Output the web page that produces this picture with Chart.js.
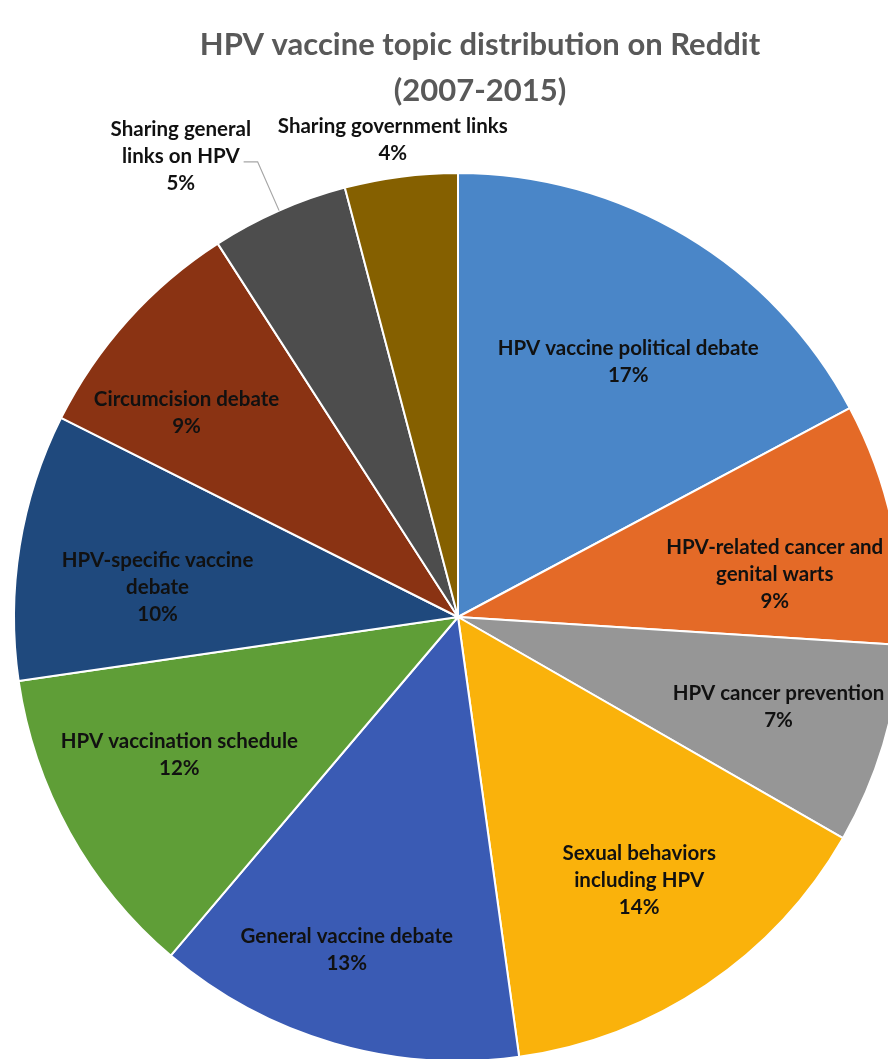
<!DOCTYPE html>
<html>
<head>
<meta charset="utf-8">
<script src="https://cdn.jsdelivr.net/npm/chart.js@4.4.1/dist/chart.umd.min.js"></script>
<style>
    html, body { margin: 0; padding: 0; overflow: hidden; background: #fff; }
    #wrap { width: 960px; height: 1070px; }
</style>
</head>
<body>
<div id="wrap"><canvas id="grafikTopik"></canvas></div>
<script>
// Data (urut searah jarum jam dari atas)
const kategori = [
    ['HPV vaccine political debate'],
    ['HPV-related cancer and', 'genital warts'],
    ['HPV cancer prevention'],
    ['Sexual behaviors', 'including HPV'],
    ['General vaccine debate'],
    ['HPV vaccination schedule'],
    ['HPV-specific vaccine', 'debate'],
    ['Circumcision debate'],
    ['Sharing general', 'links on HPV'],
    ['Sharing government links']
];
const nilai       = [17.2, 8.8, 7.3, 14.5, 13.4, 11.5, 9.7, 8.5, 5.0, 4.1];
const labelPersen = ['17%', '9%', '7%', '14%', '13%', '12%', '10%', '9%', '5%', '4%'];
const judul       = ['HPV vaccine topic distribution on Reddit', '(2007-2015)'];

const warna = [
    '#4A86C8', '#E46A27', '#969696', '#FAB20B', '#3A5BB4',
    '#5F9E37', '#1F497D', '#8A3313', '#4D4D4D', '#856000'
];

// Posisi label: fraksi jari-jari dan geser sudut (derajat)
const posisiLabel = [
    { r: 0.69, geser: 2.8 },
    { r: 0.72, geser: 4.5 },
    { r: 0.75, geser: -1 },
    { r: 0.72, geser: -0.5 },
    { r: 0.79, geser: 2.3 },
    { r: 0.70, geser: 2.7 },
    { r: 0.68, geser: -3.5 },
    { r: 0.765, geser: -5.0 },
    { r: 1.21, geser: -7.3, garis: true },
    { r: 1.085, geser: -0.4 }
];

const fontLabel   = 'bold 20.5px Lato';
const tinggiBaris = 27;

// Judul digambar sendiri supaya rata tengah terhadap kanvas
const pluginJudul = {
    id: 'judulGrafik',
    afterDraw(chart) {
        const ctx = chart.ctx;
        ctx.save();
        ctx.font = 'bold 31px Lato';
        ctx.fillStyle = '#595959';
        ctx.textAlign = 'center';
        ctx.textBaseline = 'middle';
        judul.forEach((teks, k) => {
            ctx.fillText(teks, chart.width / 2, 45 + k * 46);
        });
        ctx.restore();
    }
};

const pluginLabel = {
    id: 'labelIrisan',
    afterDatasetsDraw(chart) {
        const ctx = chart.ctx;
        const meta = chart.getDatasetMeta(0);
        ctx.save();
        ctx.font = fontLabel;
        ctx.fillStyle = '#111';
        ctx.textAlign = 'center';
        ctx.textBaseline = 'middle';

        meta.data.forEach((arc, i) => {
            const p = arc.getProps(['x', 'y', 'startAngle', 'endAngle', 'outerRadius'], true);
            const tengah = (p.startAngle + p.endAngle) / 2;
            const pos = posisiLabel[i];
            const sudut = tengah + pos.geser * Math.PI / 180;
            const lx = p.x + Math.cos(sudut) * p.outerRadius * pos.r;
            const ly = p.y + Math.sin(sudut) * p.outerRadius * pos.r;

            const baris = kategori[i].concat([labelPersen[i]]);
            const y0 = ly - (baris.length - 1) * tinggiBaris / 2;
            baris.forEach((teks, k) => {
                ctx.fillText(teks, lx, y0 + k * tinggiBaris);
            });

            if (pos.garis) {
                // garis penunjuk dari tepi irisan ke label
                const ax = p.x + Math.cos(tengah) * p.outerRadius;
                const ay = p.y + Math.sin(tengah) * p.outerRadius;
                const tekuk = p.outerRadius * 1.12;
                const bx = p.x + Math.cos(tengah) * tekuk;
                const by = p.y + Math.sin(tengah) * tekuk;
                const lebar = ctx.measureText(kategori[i][1]).width;
                const cx = lx + lebar / 2 + 4;
                ctx.beginPath();
                ctx.strokeStyle = '#A6A6A6';
                ctx.lineWidth = 1.2;
                ctx.moveTo(ax, ay);
                ctx.lineTo(bx, by);
                ctx.lineTo(cx, by);
                ctx.stroke();
            }
        });
        ctx.restore();
    }
};

const ctx = document.getElementById('grafikTopik').getContext('2d');

new Chart(ctx, {
    type: 'pie',
    data: {
        labels: kategori.map(k => k.join(' ')),
        datasets: [{
            data: nilai,
            backgroundColor: warna,
            borderColor: '#ffffff',
            borderWidth: 2
        }]
    },
    options: {
        responsive: true,
        maintainAspectRatio: false,
        animation: false,
        layout: {
            padding: { left: 13, right: 57, top: 172, bottom: 8 }
        },
        plugins: {
            legend: { display: false },
            tooltip: { enabled: false },
            title: { display: false }
        }
    },
    plugins: [pluginLabel, pluginJudul]
});
</script>
</body>
</html>
